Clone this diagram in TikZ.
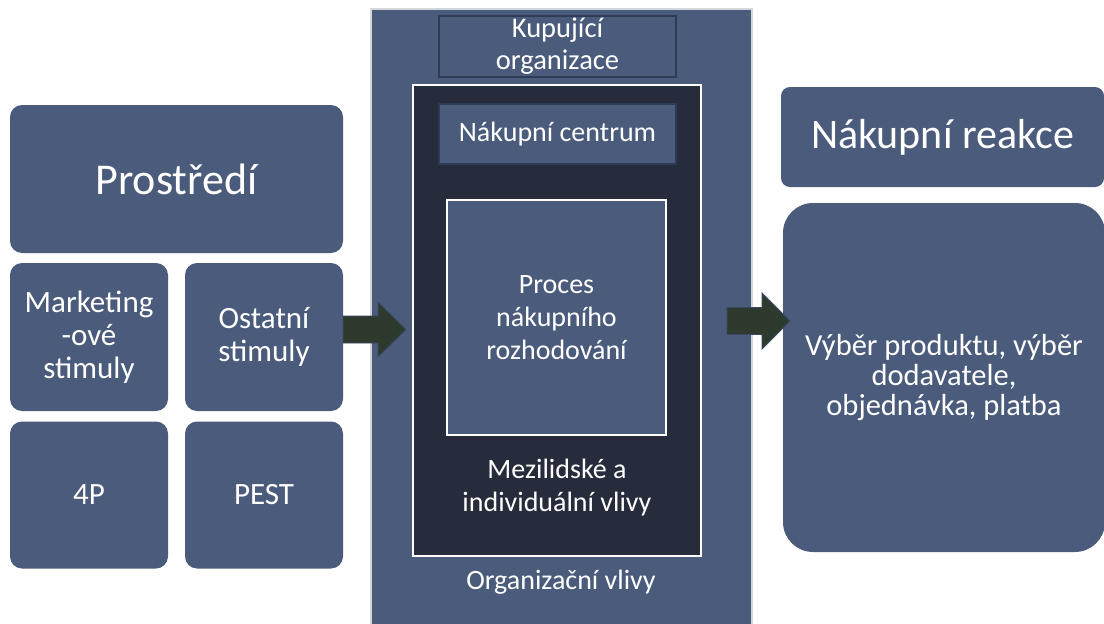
\documentclass[tikz,border=0pt]{standalone}
\usepackage{fontspec}
\setmainfont{Carlito}
\usetikzlibrary{calc}
\definecolor{slate}{HTML}{4A5B7B}
\definecolor{darkbox}{HTML}{262C3C}
\definecolor{arrowfill}{HTML}{2F3A2F}
\definecolor{arrowline}{HTML}{3A4866}
\definecolor{boxline}{HTML}{2E3B55}
\definecolor{panelline}{HTML}{D3D6DB}
\newcommand{\fatarrow}[4]{% start, tip, shaft half, head half
  \filldraw[arrowstyle] ($(#1)+(0,-#3)$) -- ($(#2)+(-28,-#3)$) -- ($(#2)+(-28,-#4)$) -- (#2)
    -- ($(#2)+(-28,#4)$) -- ($(#2)+(-28,#3)$) -- ($(#1)+(0,#3)$) -- cycle;}
\begin{document}
\begin{tikzpicture}[x=1pt,y=-1pt,
  rbox/.style={fill=slate, draw=none, rounded corners=12pt, text=white, align=center,
    inner sep=0pt, outer sep=0pt},
  smallfont/.style={font=\fontsize{31}{33}\selectfont},
  midfont/.style={font=\fontsize{28}{33}\selectfont},
  panelbox/.style={fill=slate, draw=panelline, line width=1.5pt, inner sep=0pt, outer sep=0pt},
  flatbox/.style={fill=slate, draw=boxline, line width=1.5pt, text=white, align=center,
    inner sep=0pt, outer sep=0pt},
  darkframe/.style={fill=darkbox, draw=white, line width=2pt, inner sep=0pt, outer sep=0pt},
  whitebox/.style={fill=slate, draw=white, line width=2pt, text=white, align=center,
    inner sep=0pt, outer sep=0pt},
  label/.style={text=white, align=center, inner sep=0pt},
  arrowstyle/.style={fill=arrowfill, draw=arrowline, line width=0.8pt, line join=miter}
]
\useasboundingbox (0,0) rectangle (1104,624);
\fill[white] (0,0) rectangle (1104,624);

% left column
\node[rbox, minimum width=333pt, minimum height=148pt, font=\fontsize{44}{48}\selectfont]
  (prost) at (176.5,179) {Prostředí};
\node[rbox, smallfont, minimum width=158pt, minimum height=148pt]
  (mark) at (89,337) {Marketing\\-ové\\stimuly};
\node[rbox, smallfont, minimum width=158pt, minimum height=148pt]
  (ost) at (264,337) {Ostatní\\stimuly};
\node[rbox, smallfont, minimum width=158pt, minimum height=147pt]
  (fourp) at (89,495) {4P};
\node[rbox, smallfont, minimum width=158pt, minimum height=147pt]
  (pest) at (264,495) {PEST};

% central panel
\node[panelbox, minimum width=381pt, minimum height=621pt] (panel) at (561.5,319.5) {};
\node[flatbox, font=\fontsize{28.5}{32}\selectfont, minimum width=237pt, minimum height=61pt]
  (kup) at (557.5,46.5) {Kupující\\organizace};
\node[darkframe, minimum width=288pt, minimum height=471pt] (dark) at (557,320.5) {};
\node[flatbox, midfont, minimum width=237pt, minimum height=60pt]
  (centrum) at (557.5,134) {Nákupní centrum};
\node[whitebox, midfont, minimum width=219pt, minimum height=235pt]
  (proces) at (556.5,317.5) {Proces\\nákupního\\rozhodování};
\node[label, midfont] (mezi) at (557,488) {Mezilidské a\\individuální vlivy};
\node[label, font=\fontsize{28}{30}\selectfont] (org) at (561,582) {Organizační vlivy};

% right column
\node[rbox, rounded corners=9pt, font=\fontsize{42}{46}\selectfont,
  minimum width=323pt, minimum height=100pt] (react) at (942.5,137) {Nákupní reakce};
\node[rbox, rounded corners=30pt, font=\fontsize{30.5}{30}\selectfont,
  minimum width=322pt, minimum height=349pt] (vyber) at (944,377.5)
  {Výběr produktu, výběr\\dodavatele,\\objednávka, platba};

% arrows
\coordinate (a1s) at ($(ost.east)+(0,-7.5)$);
\coordinate (a1e) at ($(panel.west)+(35,10)$);
\fatarrow{a1s}{a1e}{13.5}{27.5}
\coordinate (a2s) at ($(dark.east)+(26,0.5)$);
\coordinate (a2e) at ($(vyber.west)+(7,-56.5)$);
\fatarrow{a2s}{a2e}{13.5}{28}
\end{tikzpicture}
\end{document}
